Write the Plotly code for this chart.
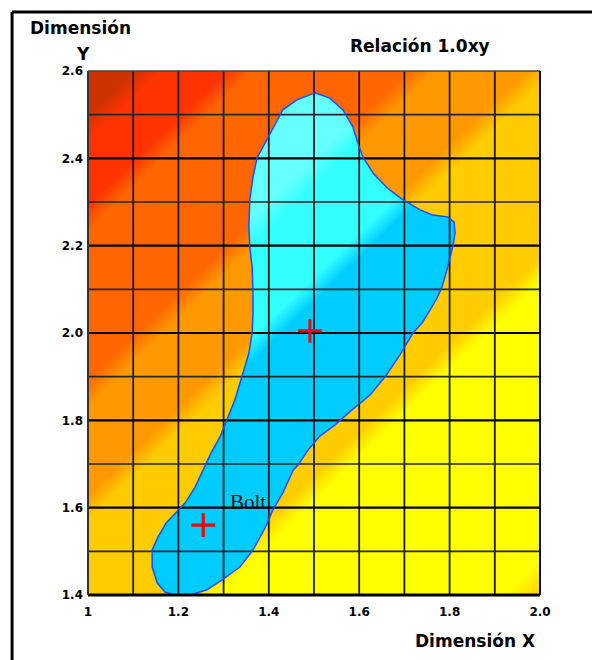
import plotly.graph_objects as go

# ---------------- data ----------------
x_tick_vals = [1.0, 1.2, 1.4, 1.6, 1.8, 2.0]
x_tick_text = ["1", "1.2", "1.4", "1.6", "1.8", "2.0"]
y_tick_vals = [1.4, 1.6, 1.8, 2.0, 2.2, 2.4, 2.6]
y_tick_text = ["1.4", "1.6", "1.8", "2.0", "2.2", "2.4", "2.6"]

x_grid = [1.1, 1.2, 1.3, 1.4, 1.5, 1.6, 1.7, 1.8, 1.9]
y_grid_minor = [1.5, 1.7, 1.9, 2.1, 2.3, 2.5]
y_grid_major = [1.6, 1.8, 2.0, 2.2, 2.4]

# background field (value of y - 1.0x read at the corners)
field_x = [1.0, 2.0]
field_y = [1.4, 2.6]
field_z = [[0.4, -0.6],
           [1.6, 0.6]]

# colour stops of the background (field value, colour)
stop_values = [-0.6, -0.52, 0.115, 0.175, 0.57, 0.63, 0.83, 0.895,
               1.235, 1.295, 1.44, 1.5, 1.6]
stop_colors = ["#FFD000", "#FFFF00", "#FFFF00", "#FFCC00", "#FFCC00",
               "#FF9900", "#FF9900", "#FF6600", "#FF6600", "#FF3300",
               "#FF3300", "#CC3300", "#CC3300"]

# "Bolt" region outline
blob_x = [1.502, 1.535, 1.564, 1.586, 1.597, 1.608, 1.631, 1.662, 1.697, 1.735,
          1.763, 1.796, 1.810, 1.812, 1.808, 1.803, 1.794, 1.783, 1.772, 1.757,
          1.739, 1.719, 1.701, 1.690, 1.659, 1.624, 1.584, 1.546, 1.513, 1.487,
          1.465, 1.454, 1.431, 1.409, 1.392, 1.365, 1.336, 1.296, 1.263, 1.226,
          1.190, 1.170, 1.153, 1.142, 1.142, 1.155, 1.173, 1.197, 1.215, 1.237,
          1.254, 1.272, 1.292, 1.310, 1.325, 1.338, 1.356, 1.363, 1.365, 1.365,
          1.363, 1.358, 1.356, 1.358, 1.365, 1.374, 1.387, 1.398, 1.414, 1.431,
          1.462]
blob_y = [2.550, 2.538, 2.511, 2.472, 2.435, 2.403, 2.366, 2.332, 2.305, 2.282,
          2.270, 2.266, 2.254, 2.229, 2.202, 2.179, 2.144, 2.105, 2.080, 2.053,
          2.023, 2.000, 1.968, 1.950, 1.902, 1.858, 1.824, 1.789, 1.764, 1.732,
          1.698, 1.686, 1.634, 1.595, 1.554, 1.503, 1.464, 1.434, 1.412, 1.400,
          1.400, 1.407, 1.428, 1.464, 1.503, 1.533, 1.565, 1.590, 1.611, 1.647,
          1.686, 1.725, 1.762, 1.808, 1.847, 1.892, 1.954, 2.000, 2.046, 2.092,
          2.151, 2.197, 2.243, 2.305, 2.357, 2.401, 2.426, 2.449, 2.481, 2.511,
          2.534]
# colour stops inside the region (field value, colour)
blue_stop_values = [0.57, 0.63, 0.84, 0.9]
blue_stop_colors = ["#00CCFF", "#33FFFF", "#33FFFF", "#66FFFF"]

points_x = [1.491, 1.255]
points_y = [2.005, 1.56]
label_text = "Bolt"
label_x = 1.353
label_y = 1.614

# ---------------- helpers ----------------
zmin, zmax = stop_values[0], stop_values[-1]
colorscale = [[(v - zmin) / (zmax - zmin), c]
              for v, c in zip(stop_values, stop_colors)]
colorscale[0][0] = 0.0
colorscale[-1][0] = 1.0


def hex_rgb(h):
    h = h.lstrip("#")
    return [int(h[i:i + 2], 16) for i in (0, 2, 4)]


def mix(c1, c2, t):
    a, b = hex_rgb(c1), hex_rgb(c2)
    return "rgb(%d,%d,%d)" % tuple(round(a[k] + (b[k] - a[k]) * t)
                                   for k in range(3))


def clip_above(xs, ys, level):
    """part of polygon where (y - x) >= level"""
    out_x, out_y = [], []
    n = len(xs)
    for i in range(n):
        xa, ya = xs[i], ys[i]
        xb, yb = xs[(i + 1) % n], ys[(i + 1) % n]
        f1 = ya - xa - level
        f2 = yb - xb - level
        if f1 >= 0:
            out_x.append(xa)
            out_y.append(ya)
        if (f1 >= 0) != (f2 >= 0):
            t = f1 / (f1 - f2)
            out_x.append(xa + t * (xb - xa))
            out_y.append(ya + t * (yb - ya))
    return out_x, out_y


fig = go.Figure()

fig.add_trace(go.Contour(
    x=field_x, y=field_y, z=field_z,
    zmin=zmin, zmax=zmax, colorscale=colorscale, showscale=False,
    contours=dict(start=zmin, end=zmax, size=0.004, coloring="fill",
                  showlines=False),
    line=dict(width=0), hoverinfo="skip"))

# blob fill: base colour, then stepped layers for the ramps
fig.add_trace(go.Scatter(
    x=blob_x + [blob_x[0]], y=blob_y + [blob_y[0]], mode="lines",
    fill="toself", fillcolor=blue_stop_colors[0], line=dict(width=0),
    hoverinfo="skip", showlegend=False))
n_steps = 8
for j in range(len(blue_stop_values) - 1):
    va, vb = blue_stop_values[j], blue_stop_values[j + 1]
    ca, cb = blue_stop_colors[j], blue_stop_colors[j + 1]
    if ca == cb:
        continue
    for s in range(1, n_steps + 1):
        lev = va + (vb - va) * (s - 0.5) / n_steps
        col = mix(ca, cb, s / n_steps)
        cx, cy = clip_above(blob_x, blob_y, lev)
        if len(cx) > 2:
            fig.add_trace(go.Scatter(
                x=cx + [cx[0]], y=cy + [cy[0]], mode="lines", fill="toself",
                fillcolor=col, line=dict(width=0), hoverinfo="skip",
                showlegend=False))

# grid lines (above the filled region)
y0, y1 = y_tick_vals[0], y_tick_vals[-1]
x0, x1 = x_tick_vals[0], x_tick_vals[-1]


def vlines(vals):
    xs, ys = [], []
    for v in vals:
        xs += [v, v, None]
        ys += [y0, y1, None]
    return xs, ys


def hlines(vals):
    xs, ys = [], []
    for v in vals:
        xs += [x0, x1, None]
        ys += [v, v, None]
    return xs, ys


gx, gy = vlines(x_grid)
fig.add_trace(go.Scatter(x=gx, y=gy, mode="lines",
                         line=dict(color="#1a1a1a", width=1.8),
                         hoverinfo="skip", showlegend=False))
gx, gy = hlines(y_grid_minor)
fig.add_trace(go.Scatter(x=gx, y=gy, mode="lines",
                         line=dict(color="#262626", width=1.6),
                         hoverinfo="skip", showlegend=False))
gx, gy = hlines(y_grid_major)
fig.add_trace(go.Scatter(x=gx, y=gy, mode="lines",
                         line=dict(color="#000000", width=2.2),
                         hoverinfo="skip", showlegend=False))

# blob outline
fig.add_trace(go.Scatter(
    x=blob_x + [blob_x[0]], y=blob_y + [blob_y[0]], mode="lines",
    line=dict(color="#1a4dff", width=1.5), hoverinfo="skip",
    showlegend=False))

# red crosses
fig.add_trace(go.Scatter(
    x=points_x, y=points_y, mode="markers",
    marker=dict(symbol="cross-thin", size=17,
                line=dict(color="#E01010", width=3.2)),
    hoverinfo="skip", showlegend=False))

fig.add_annotation(x=label_x, y=label_y, xref="x", yref="y", text=label_text,
                   showarrow=False, xanchor="center", yanchor="middle",
                   font=dict(family="Liberation Serif", size=21,
                             color="#111111"))

title_font = dict(family="DejaVu Sans", size=17, color="#000000",
                  weight="bold")
fig.add_annotation(x=-0.0155, y=1.082, xref="paper", yref="paper",
                   text="Dimensión", showarrow=False, xanchor="center",
                   yanchor="middle", font=title_font)
fig.add_annotation(x=-0.011, y=1.0324, xref="paper", yref="paper",
                   text="Y", showarrow=False, xanchor="center",
                   yanchor="middle", font=title_font)
fig.add_annotation(x=0.7345, y=1.0477, xref="paper", yref="paper",
                   text="Relación 1.0xy", showarrow=False, xanchor="center",
                   yanchor="middle", font=title_font)
fig.add_annotation(x=0.9934, y=-0.0878, xref="paper", yref="paper",
                   text="Dimensión X", showarrow=False, xanchor="right",
                   yanchor="middle", font=title_font)

# plot-area border and outer frame
fig.add_shape(type="line", xref="paper", yref="paper", x0=0, x1=1, y0=0, y1=0,
              line=dict(color="#000000", width=3), layer="above")
fig.add_shape(type="line", xref="paper", yref="paper", x0=0, x1=0, y0=0, y1=1,
              line=dict(color="#333333", width=2), layer="above")
fig.add_shape(type="line", xref="paper", yref="paper", x0=0, x1=1, y0=1, y1=1,
              line=dict(color="#444444", width=1.5), layer="above")
fig.add_shape(type="line", xref="paper", yref="paper", x0=1, x1=1, y0=0, y1=1,
              line=dict(color="#000000", width=2), layer="above")
fig.add_shape(type="line", xref="paper", yref="paper", x0=-0.168, x1=-0.168,
              y0=1.1126, y1=-0.14, line=dict(color="#000000", width=3),
              layer="above")
fig.add_shape(type="line", xref="paper", yref="paper", x0=-0.168, x1=1.14,
              y0=1.1126, y1=1.1126, line=dict(color="#000000", width=3),
              layer="above")

tick_font = dict(family="DejaVu Sans", size=12, color="#000000",
                 weight="bold")
fig.update_layout(
    width=592, height=660,
    margin=dict(l=88, r=52, t=71, b=65),
    paper_bgcolor="white", plot_bgcolor="white",
    showlegend=False,
    xaxis=dict(range=[x0, x1], tickvals=x_tick_vals, ticktext=x_tick_text,
               showgrid=False, zeroline=False, showline=False, ticks="",
               tickfont=tick_font, ticklabelstandoff=8, fixedrange=True),
    yaxis=dict(range=[y0, y1], tickvals=y_tick_vals, ticktext=y_tick_text,
               showgrid=False, zeroline=False, showline=False, ticks="",
               tickfont=tick_font, ticklabelstandoff=4, fixedrange=True),
)

fig.write_html("out.html", config={"displayModeBar": False},
               post_script="document.body.style.margin='0';"
                           "document.body.style.overflow='hidden';")
